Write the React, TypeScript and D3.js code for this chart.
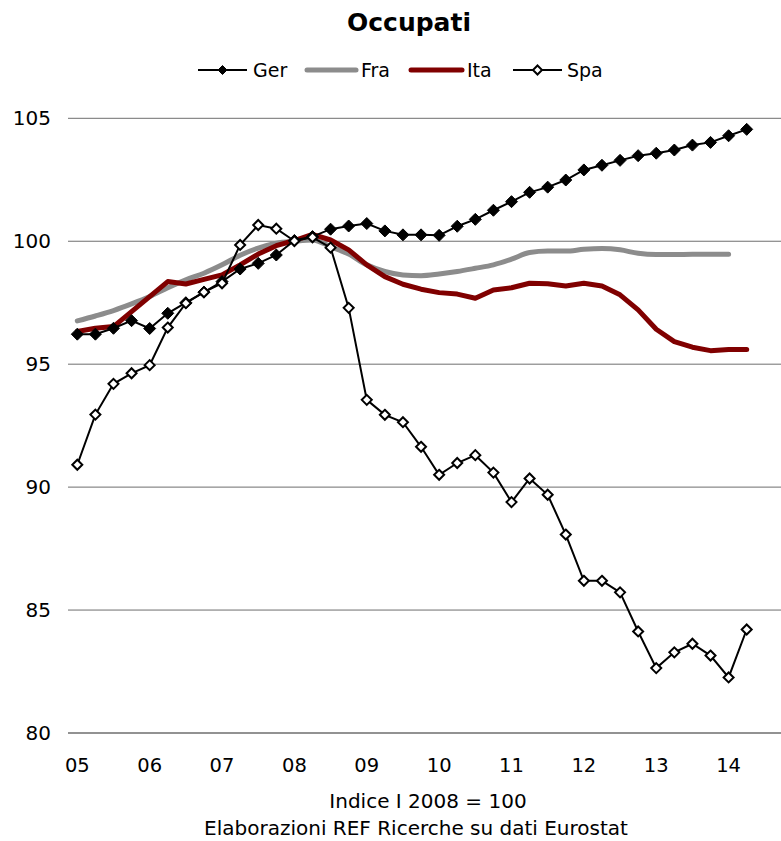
import React from "react";
import * as d3 from "d3";

const years = ["05", "06", "07", "08", "09", "10", "11", "12", "13", "14"];
const yTicks = [80, 85, 90, 95, 100, 105];

const ger = [96.22, 96.22, 96.46, 96.77, 96.45, 97.07, 97.5, 97.93, 98.36, 98.87, 99.1, 99.44, 100.03, 100.19,
  100.49, 100.62, 100.72, 100.42, 100.26, 100.26, 100.24, 100.61, 100.89, 101.26, 101.61, 101.99, 102.2,
  102.49, 102.9, 103.09, 103.29, 103.48, 103.58, 103.71, 103.91, 104.02, 104.29, 104.55];
const fra = [96.76, 96.96, 97.18, 97.45, 97.75, 98.11, 98.43, 98.7, 99.04, 99.43, 99.72, 99.92, 100.0, 100.05,
  99.78, 99.48, 99.04, 98.77, 98.63, 98.6, 98.67, 98.77, 98.9, 99.04, 99.27, 99.54, 99.6,
  99.6, 99.67, 99.7, 99.65, 99.51, 99.46, 99.46, 99.47, 99.47, 99.47];
const ita = [96.33, 96.46, 96.53, 97.14, 97.75, 98.36, 98.26, 98.45, 98.63, 99.04, 99.48, 99.82, 100.03, 100.28,
  100.05, 99.65, 99.04, 98.56, 98.25, 98.05, 97.91, 97.85, 97.68, 98.02, 98.11, 98.29, 98.27,
  98.18, 98.29, 98.18, 97.82, 97.21, 96.42, 95.92, 95.69, 95.55, 95.6, 95.6];
const spa = [90.91, 92.95, 94.2, 94.63, 94.96, 96.49, 97.48, 97.93, 98.29, 99.85, 100.66, 100.51, 100.01, 100.16,
  99.74, 97.29, 93.55, 92.94, 92.64, 91.64, 90.5, 90.98, 91.3, 90.59, 89.39, 90.35, 89.69,
  88.07, 86.19, 86.19, 85.72, 84.13, 82.64, 83.28, 83.63, 83.15, 82.26, 84.21];

const FONT = "'DejaVu Sans', Verdana, sans-serif";

export default function App() {
  const W = 781, H = 841;
  const x = d3.scaleLinear().domain([0, 37]).range([77.3, 746.7]);
  const y = d3.scaleLinear().domain([80, 105]).range([733, 118.3]);
  const gridX0 = 68, gridX1 = 781;

  const lineLin = d3.line<number>().x((_, i) => x(i)).y((d) => y(d));
  const lineSmooth = d3.line<number>().x((_, i) => x(i)).y((d) => y(d)).curve(d3.curveMonotoneX);

  const diamond = (cx: number, cy: number, r: number) =>
    `M${cx},${cy - r}L${cx + r},${cy}L${cx},${cy + r}L${cx - r},${cy}Z`;

  const legendY = 70;
  const legend = [
    { key: "Ger", x0: 198, x1: 247, tx: 253, type: "filled" },
    { key: "Fra", x0: 307, x1: 356, tx: 361, type: "grey" },
    { key: "Ita", x0: 411, x1: 462, tx: 467, type: "red" },
    { key: "Spa", x0: 513, x1: 562, tx: 567, type: "hollow" },
  ];

  return (
    <svg width={W} height={H} style={{ position: "absolute", left: 0, top: 0, background: "#fff" }}>
      <rect x={0} y={0} width={W} height={H} fill="#fff" />
      <text x={409} y={31} textAnchor="middle" fontFamily={FONT} fontWeight="bold" fontSize={25} fill="#000">
        Occupati
      </text>
      {legend.map((l) => (
        <g key={l.key}>
          {l.type === "grey" && (
            <line x1={l.x0} x2={l.x1} y1={legendY} y2={legendY} stroke="#8c8c8c" strokeWidth={5} strokeLinecap="round" />
          )}
          {l.type === "red" && (
            <line x1={l.x0} x2={l.x1} y1={legendY} y2={legendY} stroke="#800000" strokeWidth={5} strokeLinecap="round" />
          )}
          {(l.type === "filled" || l.type === "hollow") && (
            <>
              <line x1={l.x0} x2={l.x1} y1={legendY} y2={legendY} stroke="#000" strokeWidth={2} />
              <path
                d={diamond((l.x0 + l.x1) / 2, legendY, 4.5)}
                fill={l.type === "filled" ? "#000" : "#fff"}
                stroke="#000"
                strokeWidth={l.type === "filled" ? 1 : 2}
              />
            </>
          )}
          <text x={l.tx} y={legendY + 7} fontFamily={FONT} fontSize={19} fill="#000">
            {l.key}
          </text>
        </g>
      ))}

      {yTicks.map((t) => (
        <g key={t}>
          <line x1={gridX0} x2={gridX1} y1={y(t)} y2={y(t)} stroke="#6e6e6e" strokeWidth={t === 80 ? 1.5 : 1} />
          <text x={51} y={y(t) + 7} textAnchor="end" fontFamily={FONT} fontSize={20} fill="#000">
            {t}
          </text>
        </g>
      ))}

      {years.map((lab, k) => (
        <text key={lab} x={x(k * 4)} y={772} textAnchor="middle" fontFamily={FONT} fontSize={19.5} fill="#000">
          {lab}
        </text>
      ))}

      <path d={lineSmooth(fra) || ""} fill="none" stroke="#8c8c8c" strokeWidth={5} strokeLinejoin="round" strokeLinecap="round" />
      <path d={lineLin(ita) || ""} fill="none" stroke="#800000" strokeWidth={5} strokeLinejoin="round" strokeLinecap="round" />

      <path d={lineLin(ger) || ""} fill="none" stroke="#000" strokeWidth={2} />
      {ger.map((v, i) => (
        <path key={"g" + i} d={diamond(x(i), y(v), 6)} fill="#000" stroke="#000" strokeWidth={1} />
      ))}

      <path d={lineLin(spa) || ""} fill="none" stroke="#000" strokeWidth={2} />
      {spa.map((v, i) => (
        <path key={"s" + i} d={diamond(x(i), y(v), 5)} fill="#fff" stroke="#000" strokeWidth={2} />
      ))}

      <text x={428} y={808} textAnchor="middle" fontFamily={FONT} fontSize={20} fill="#000">
        Indice I 2008 = 100
      </text>
      <text x={416} y={835} textAnchor="middle" fontFamily={FONT} fontSize={20} fill="#000">
        Elaborazioni REF Ricerche su dati Eurostat
      </text>
    </svg>
  );
}
